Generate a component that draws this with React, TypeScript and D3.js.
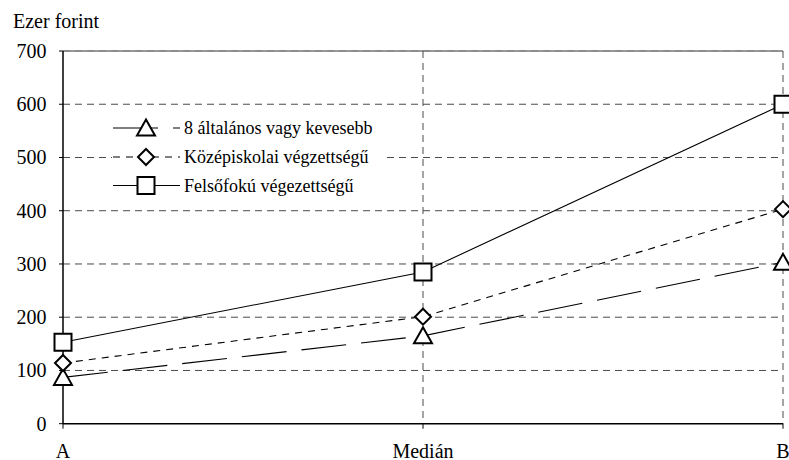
import React from "react";
import * as d3 from "d3";

const categories = ["A", "Medián", "B"];
const yTicks = [0, 100, 200, 300, 400, 500, 600, 700];
const seriesNames = [
  "8 általános vagy kevesebb",
  "Középiskolai végzettségű",
  "Felsőfokú végezettségű",
];
const elementary = [87, 165, 303];
const secondary = [114, 201, 403];
const higher = [153, 285, 600];

const W = 789;
const H = 460;
const FONT = "Liberation Serif, Times New Roman, serif";

const x = d3.scalePoint<string>().domain(categories).range([63, 783]);
const y = d3.scaleLinear().domain([0, 700]).range([423.7, 51]);

type Marker = "triangle" | "diamond" | "square";

const series: { name: string; values: number[]; dash: string; marker: Marker }[] = [
  { name: seriesNames[0], values: elementary, dash: "45,15", marker: "triangle" },
  { name: seriesNames[1], values: secondary, dash: "7,6", marker: "diamond" },
  { name: seriesNames[2], values: higher, dash: "none", marker: "square" },
];

function markerPath(m: Marker): string {
  if (m === "triangle") return "M0,-8.5 L9,7.5 L-9,7.5 Z";
  if (m === "diamond") return "M0,-8 L8,0 L0,8 L-8,0 Z";
  return "M-8.5,-8.5 L8.5,-8.5 L8.5,8.5 L-8.5,8.5 Z";
}

export default function App() {
  const line = d3
    .line<number>()
    .x((_, i) => x(categories[i]) as number)
    .y((d) => y(d));

  const legendX0 = 113;
  const legendX1 = 180;
  const legendMarkerX = 146;
  const legendYs = [128, 157, 185.5];

  return (
    <div style={{ fontFamily: FONT }}>
      <svg
        width={W}
        height={H}
        style={{ position: "absolute", left: 0, top: 0, background: "#fff", fontFamily: FONT }}
      >
        <rect x={0} y={0} width={W} height={H} fill="#fff" />
        <text x={13} y={28} fontSize={20}>
          Ezer forint
        </text>

        {yTicks
          .filter((t) => t > 0 && t < 700)
          .map((t) => (
            <line
              key={t}
              x1={63}
              x2={783}
              y1={y(t)}
              y2={y(t)}
              stroke="#4a4a4a"
              strokeWidth={1}
              strokeDasharray="7,5"
            />
          ))}
        <line x1={63} x2={783} y1={y(700)} y2={y(700)} stroke="#333" strokeWidth={1} />
        <line x1={63} x2={783} y1={y(700)} y2={y(700)} stroke="#888" strokeWidth={1.5} strokeDasharray="7,5" />

        {categories.slice(1).map((c) => (
          <line
            key={c}
            x1={x(c)}
            x2={x(c)}
            y1={y(700)}
            y2={y(0)}
            stroke="#4a4a4a"
            strokeWidth={1}
            strokeDasharray="7,5"
          />
        ))}

        <line x1={63} x2={63} y1={y(700)} y2={y(0)} stroke="#000" strokeWidth={1.5} />
        <line x1={63} x2={783} y1={y(0)} y2={y(0)} stroke="#000" strokeWidth={1.5} />
        {yTicks.map((t) => (
          <g key={t}>
            <line x1={59} x2={63} y1={y(t)} y2={y(t)} stroke="#000" strokeWidth={1} />
            <text x={46.5} y={y(t)} dy="0.35em" textAnchor="end" fontSize={20}>
              {t}
            </text>
          </g>
        ))}
        {categories.map((c) => (
          <g key={c}>
            <line x1={x(c)} x2={x(c)} y1={y(0)} y2={y(0) + 5} stroke="#000" strokeWidth={1} />
            <text x={x(c)} y={457.5} textAnchor="middle" fontSize={20}>
              {c}
            </text>
          </g>
        ))}

        {series.map((s) => (
          <path
            key={s.name}
            d={line(s.values) || ""}
            fill="none"
            stroke="#000"
            strokeWidth={1.1}
            strokeDasharray={s.dash}
          />
        ))}
        {series.map((s) =>
          s.values.map((v, i) => (
            <path
              key={s.name + i}
              d={markerPath(s.marker)}
              transform={`translate(${x(categories[i])},${y(v)})`}
              fill="#fff"
              stroke="#000"
              strokeWidth={2}
            />
          ))
        )}

        {/* legend box (white, borderless) */}
        <rect x={112} y={113} width={271} height={88} fill="#fff" />
        {series.map((s, i) => (
          <g key={s.name}>
            <line
              x1={legendX0}
              x2={legendX1}
              y1={legendYs[i]}
              y2={legendYs[i]}
              stroke="#000"
              strokeWidth={1.1}
              strokeDasharray={s.dash}
            />
            <path
              d={markerPath(s.marker)}
              transform={`translate(${legendMarkerX},${legendYs[i]})`}
              fill="#fff"
              stroke="#000"
              strokeWidth={2}
            />
            <text x={184} y={legendYs[i]} dy="0.35em" fontSize={18}>
              {s.name}
            </text>
          </g>
        ))}
      </svg>
    </div>
  );
}
